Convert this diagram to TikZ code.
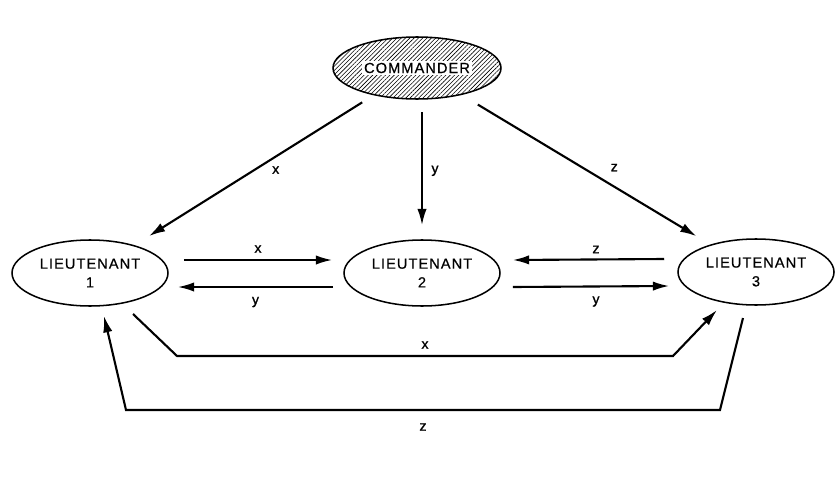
\documentclass[tikz,border=0pt]{standalone}
\usepackage{fontspec}
\setmainfont{Liberation Sans}
\newfontfamily\namefont{Liberation Sans}[LetterSpace=7,FakeBold=0.5]
\newfontfamily\tagfont{Liberation Sans}[FakeBold=1.2]
\usetikzlibrary{shapes.geometric,arrows.meta,patterns.meta,calc}
\begin{document}
\begin{tikzpicture}[x=0.03cm,y=-0.03cm,
  officer/.style={ellipse,draw,line width=1.3pt,inner sep=0pt,align=center,
    minimum width=4.68cm,minimum height=1.98cm,font=\namefont\fontsize{12.5}{16}\selectfont},
  msg/.style={line width=1.8pt,-{Latex[length=14pt,width=8pt]}},
  lbl/.style={font=\tagfont\fontsize{12}{14}\selectfont,inner sep=0pt}]
\useasboundingbox (0,0) rectangle (839,478);

% the commander, hatched, with its name on a clear patch
\node[officer,minimum width=5.04cm,minimum height=1.86cm,
  pattern={Lines[angle=45,distance=2.6pt,line width=0.5pt]}] (cmd) at (417,68) {};
\node[fill=white,inner sep=1.5pt,font=\namefont\fontsize{12.5}{16}\selectfont] (cmdname) at (cmd) {COMMANDER};

% the three lieutenants
\node[officer] (l1) at (90,273) {LIEUTENANT\\1};
\node[officer] (l2) at (422,273) {LIEUTENANT\\2};
\node[officer] (l3) at (756,272) {LIEUTENANT\\3};

% orders from the commander
\draw[msg,shorten <=0.42cm,shorten >=0.51cm] (cmd) -- (l1)
  node[lbl,midway,xshift=0.645cm] {x};
\draw[msg,shorten <=0.39cm,shorten >=0.42cm] (cmd.south -| l2.north) -- (l2.north)
  node[lbl,midway,xshift=0.39cm,yshift=-0.045cm] {y};
\draw[msg,shorten <=0.58cm,shorten >=0.48cm] (cmd) -- (l3)
  node[lbl,midway,xshift=0.855cm,yshift=0.06cm] {z};

% relayed values between neighbouring lieutenants
\draw[msg] ($(l1.east)+(15,-13)$) -- ($(l2.west)+(-11,-13)$)
  node[lbl,midway,yshift=0.33cm] {x};
\draw[msg] ($(l2.west)+(-10,14)$) -- ($(l1.east)+(9,14)$)
  node[lbl,midway,yshift=-0.45cm] {y};
\draw[msg] ($(l3.west)+(-13,-13)$) -- ($(l2.east)+(12,-13)$)
  node[lbl,midway,xshift=0.225cm,yshift=0.3cm] {z};
\draw[msg] ($(l2.east)+(12,14)$) -- ($(l3.west)+(-8,14)$)
  node[lbl,midway,xshift=0.15cm,yshift=-0.45cm] {y};

% relays between the outer lieutenants
\coordinate (xa) at (177,356);
\coordinate (xb) at (673,356);
\coordinate (za) at (720,410);
\coordinate (zb) at (126,410);
\draw[msg] ($(l1)+(43,41)$) -- (xa) -- (xb)
  node[lbl,midway,yshift=0.33cm] {x} -- ($(l3)+(-39,38)$);
\draw[msg] ($(l3)+(-13,46)$) -- (za) -- (zb)
  node[lbl,midway,yshift=-0.51cm] {z} -- ($(l1)+(14,43)$);
\end{tikzpicture}
\end{document}
